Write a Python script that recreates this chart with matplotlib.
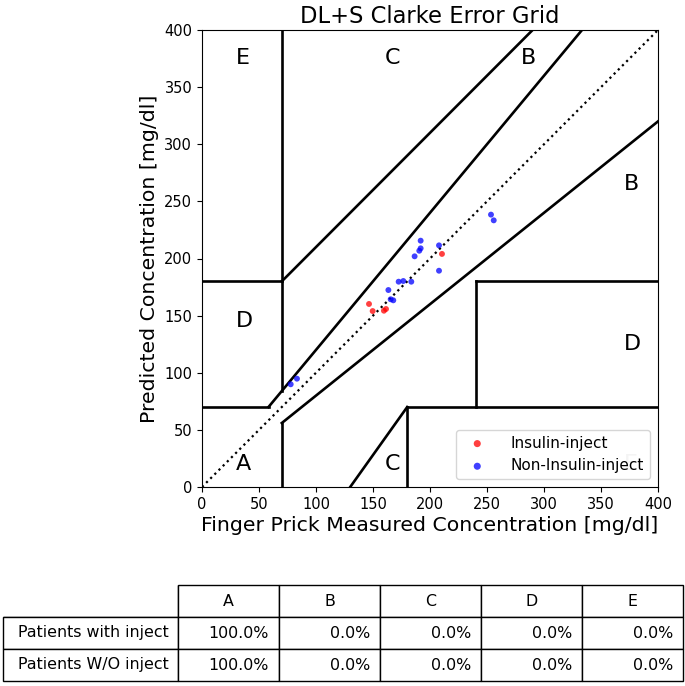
import matplotlib
matplotlib.use("Agg")
import matplotlib.pyplot as plt

# Data
inj_ref = [146.5, 149.7, 159.6, 161.4, 210.5]
inj_pred = [160.2, 154.0, 154.3, 155.8, 204.0]

non_ref = [253.5, 255.9, 191.8, 191.8, 190.6, 186.5, 207.9, 207.9, 172.5, 176.6,
           183.6, 163.5, 165.5, 167.8, 83.3, 77.8]
non_pred = [238.4, 233.4, 215.6, 208.9, 206.8, 201.9, 211.5, 189.3, 179.7, 180.3,
            179.7, 172.4, 164.3, 163.4, 94.8, 89.9]

zones = ["A", "B", "C", "D", "E"]
row_labels = ["Patients with inject", "Patients W/O inject"]
with_inject = [100.0, 0.0, 0.0, 0.0, 0.0]
without_inject = [100.0, 0.0, 0.0, 0.0, 0.0]

W, H = 685, 686
fig = plt.figure(figsize=(W / 100, H / 100), dpi=100)
ax = fig.add_axes([202 / W, 1 - 487 / H, 456 / W, 457 / H])

ax.scatter(inj_ref, inj_pred, s=18, c="red", alpha=0.75, edgecolors="none", label="Insulin-inject", zorder=3)
ax.scatter(non_ref, non_pred, s=18, c="blue", alpha=0.75, edgecolors="none", label="Non-Insulin-inject", zorder=3)

lw = 1.9
ax.plot([0, 400], [0, 400], ":", c="black", lw=1.6)
ax.plot([0, 175 / 3], [70, 70], "-", c="black", lw=lw)
ax.plot([175 / 3, 400 / 1.2], [70, 400], "-", c="black", lw=lw)
ax.plot([70, 70], [84, 400], "-", c="black", lw=lw)
ax.plot([0, 70], [180, 180], "-", c="black", lw=lw)
ax.plot([70, 290], [180, 400], "-", c="black", lw=lw)
ax.plot([70, 70], [0, 56], "-", c="black", lw=lw)
ax.plot([70, 400], [56, 320], "-", c="black", lw=lw)
ax.plot([180, 180], [0, 70], "-", c="black", lw=lw)
ax.plot([180, 400], [70, 70], "-", c="black", lw=lw)
ax.plot([240, 240], [70, 180], "-", c="black", lw=lw)
ax.plot([240, 400], [180, 180], "-", c="black", lw=lw)
ax.plot([130, 180], [0, 70], "-", c="black", lw=lw)

fs = 16
ax.text(30, 15, "A", fontsize=fs)
ax.text(370, 260, "B", fontsize=fs)
ax.text(280, 370, "B", fontsize=fs)
ax.text(160, 370, "C", fontsize=fs)
ax.text(160, 15, "C", fontsize=fs)
ax.text(30, 140, "D", fontsize=fs)
ax.text(370, 120, "D", fontsize=fs)
ax.text(30, 370, "E", fontsize=fs)
ax.text(370, 15, "E", fontsize=fs, color="#cccccc")

ax.set_xlim(0, 400)
ax.set_ylim(0, 400)
ax.set_xticks(range(0, 401, 50))
ax.set_yticks(range(0, 401, 50))
ax.tick_params(labelsize=10.5)
ax.set_xlabel("Finger Prick Measured Concentration [mg/dl]", fontsize=14.7, labelpad=3)
ax.set_ylabel("Predicted Concentration [mg/dl]", fontsize=14.7)
ax.set_title("DL+S Clarke Error Grid", fontsize=16.3, pad=5)
ax.legend(loc="lower right", fontsize=11, handletextpad=1.2, markerscale=1.2)

tax = fig.add_axes([3 / W, 1 - 681 / H, 680 / W, 96 / H])
tax.axis("off")
cells = [[""] + zones]
cells.append([row_labels[0]] + [f"{v:.1f}%" for v in with_inject])
cells.append([row_labels[1]] + [f"{v:.1f}%" for v in without_inject])
colw = [175] + [101] * 5
tbl = tax.table(cellText=cells, colWidths=[c / sum(colw) for c in colw], bbox=[0, 0, 1, 1], cellLoc="right")
tbl.auto_set_font_size(False)
for (r, c), cell in tbl.get_celld().items():
    cell.set_fontsize(11.4)
    cell.set_linewidth(1.0)
    if r == 0:
        cell.get_text().set_ha("center")
        cell._loc = "center"
    if r == 0 and c == 0:
        cell.visible_edges = "BR"
for r in range(3):
    tbl[r, 0].PAD = 0.05
fig.savefig("out.png", dpi=100)
